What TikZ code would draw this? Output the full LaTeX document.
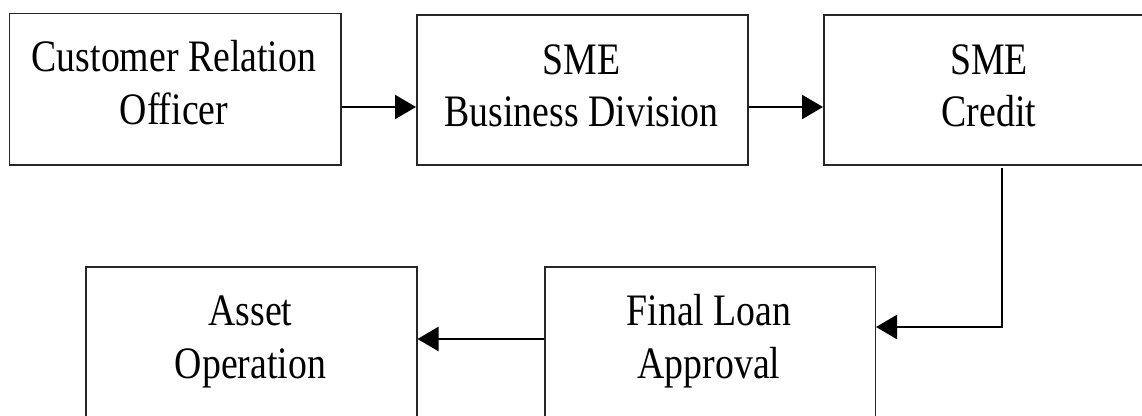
\documentclass[tikz,border=0pt]{standalone}
\usepackage{fontspec}
\setmainfont{Liberation Serif}[FakeStretch=0.84]
\usetikzlibrary{arrows.meta}
\begin{document}
\begin{tikzpicture}[x=1pt,y=-1pt,
  frame/.style={draw=black!85, line width=1.5pt, rectangle, inner sep=0pt, anchor=north west},
  lbl/.style={align=center, inner sep=0pt, anchor=base, font=\fontsize{45}{52.5}\selectfont},
  conn/.style={draw=black, line width=2.2pt, -{Triangle[length=21pt,width=24pt]}}]
\useasboundingbox (0,0) rectangle (1142,415);
\clip (0,0) rectangle (1142,415);
\fill[white] (0,0) rectangle (1142,415);
% boxes
\node[frame, minimum width=331.5pt, minimum height=151.5pt] (cro) at (8.5,12.5) {};
\node[frame, minimum width=331pt, minimum height=150pt] (sbd) at (416,14) {};
\node[frame, minimum width=332pt, minimum height=150pt] (smc) at (823,14) {};
\node[frame, minimum width=330.5pt, minimum height=170pt] (fla) at (544,266) {};
\node[frame, minimum width=331pt, minimum height=170pt] (aso) at (85,266) {};
% texts (base anchor = baseline of the last line)
\node[lbl] (crot) at (174,124) {Customer Relation\\Officer};
\node[lbl] (sbdt) at (581.5,126.5) {SME\\Business Division};
\node[lbl] (smct) at (989,126.5) {SME\\Credit};
\node[lbl] (flat) at (709,378) {Final Loan\\Approval};
\node[lbl] (asot) at (250.5,378) {Asset\\Operation};
% connector rows
\coordinate (r1) at (0,107);
\coordinate (r2) at (0,327);
\coordinate (r3) at (0,339);
\coordinate (c1) at (1002,168);
\draw[conn] (cro.north east |- r1) -- (sbd.north west |- r1);
\draw[conn] (sbd.north east |- r1) -- (smc.north west |- r1);
\draw[conn] (c1) |- (fla.north east |- r2);
\draw[conn] (fla.north west |- r3) -- (aso.north east |- r3);
\end{tikzpicture}
\end{document}
